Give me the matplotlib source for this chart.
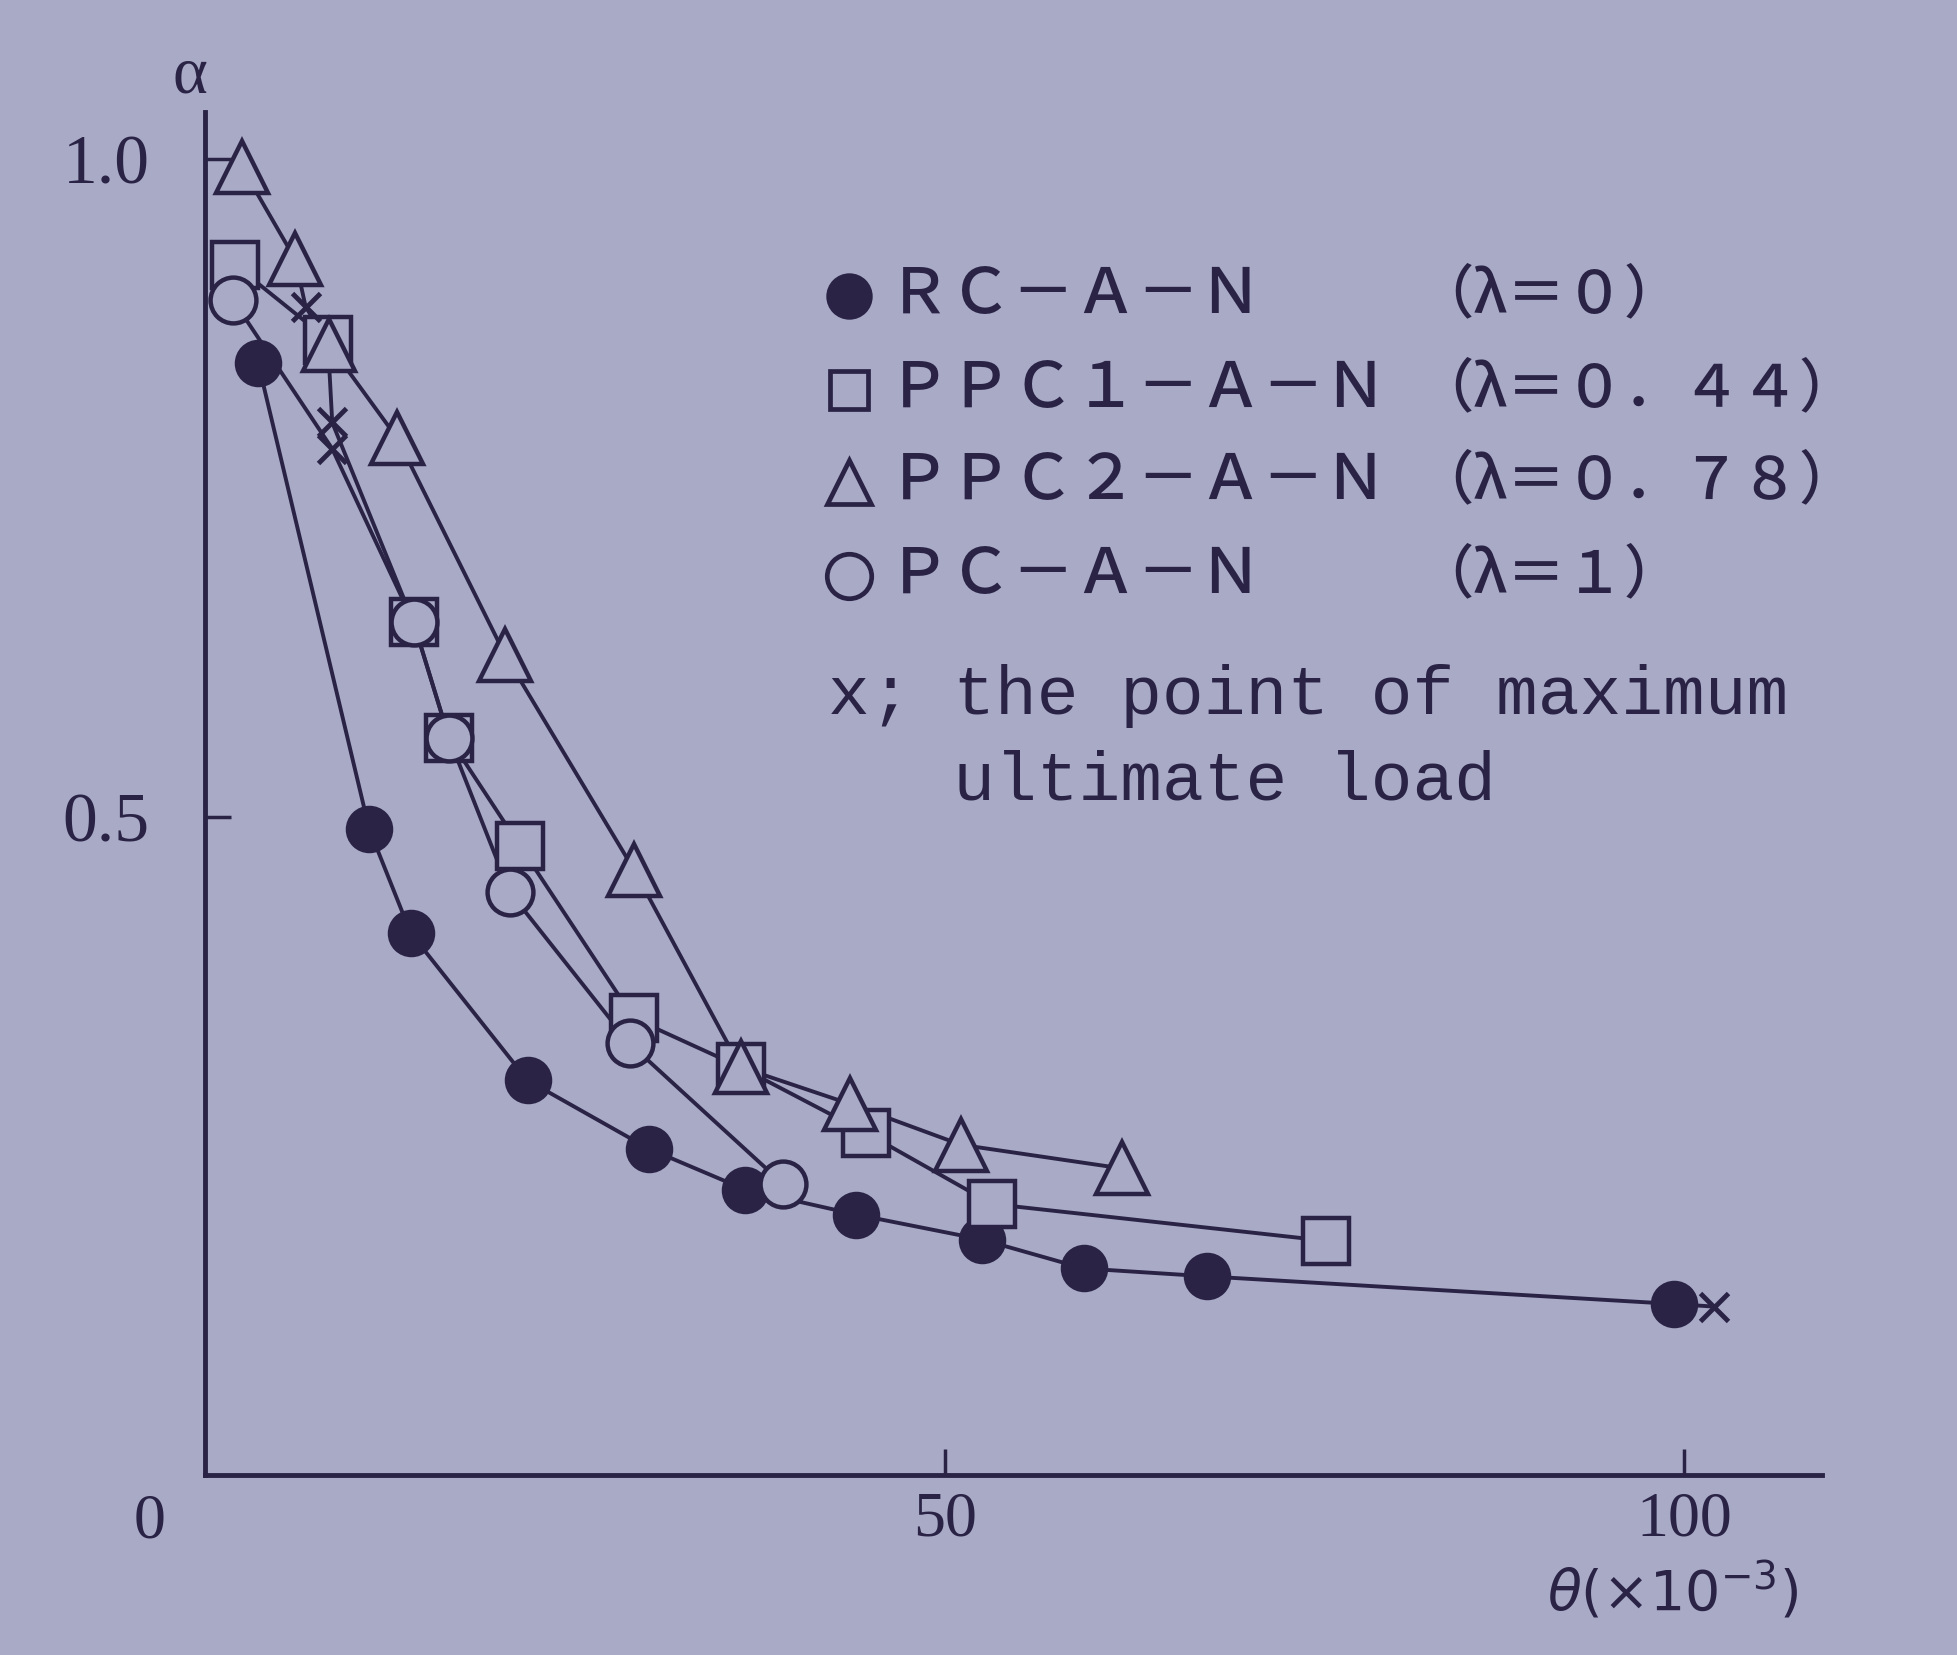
import matplotlib.pyplot as plt

# rotation angle theta (x10^-3) and load ratio alpha
# RC-A-N (lambda = 0); last point is the "x" (maximum ultimate load)
rc_x = [3.6, 11.1, 13.9, 21.8, 30.0, 36.5, 44.0, 52.5, 59.4, 67.7, 99.3, 102.0]
rc_y = [0.845, 0.491, 0.412, 0.300, 0.248, 0.217, 0.198, 0.179, 0.157, 0.151, 0.130, 0.128]
rc_max = 11

# PPC1-A-N (lambda = 0.44)
p1_x = [2.0, 8.3, 8.6, 14.1, 16.5, 21.3, 29.0, 36.2, 44.7, 53.2, 75.8]
p1_y = [0.920, 0.863, 0.800, 0.648, 0.560, 0.478, 0.347, 0.310, 0.260, 0.206, 0.178]
p1_max = 2

# PPC2-A-N (lambda = 0.78)
p2_x = [2.5, 6.1, 6.8, 8.4, 13.0, 20.3, 29.0, 36.2, 43.6, 51.1, 62.0]
p2_y = [0.994, 0.924, 0.888, 0.859, 0.788, 0.623, 0.460, 0.310, 0.282, 0.251, 0.233]
p2_max = 2

# PC-A-N (lambda = 1)
pc_x = [1.9, 8.6, 14.1, 16.5, 20.6, 28.7, 39.1]
pc_y = [0.893, 0.780, 0.648, 0.560, 0.443, 0.328, 0.221]
pc_max = 1

names = ["ＲＣ－Ａ－Ｎ", "ＰＰＣ１－Ａ－Ｎ", "ＰＰＣ２－Ａ－Ｎ", "ＰＣ－Ａ－Ｎ"]
lambdas = ["（λ＝０）", "（λ＝０．４４）", "（λ＝０．７８）", "（λ＝１）"]
note = ["x; the point of maximum", "   ultimate load"]

BG = "#a8aac6"
INK = "#2a2346"

W, H = 1957, 1655


def fx(px):
    return px / W


def fy(py):
    return 1 - py / H


fig = plt.figure(figsize=(W / 100, H / 100), dpi=100, facecolor=BG)
ax = fig.add_axes([205 / W, 180 / H, 1617 / W, 1363 / H])
ax.set_facecolor("none")

series = [
    (rc_x, rc_y, rc_max, "o", INK, 31),
    (p1_x, p1_y, p1_max, "s", BG, 33),
    (p2_x, p2_y, p2_max, "^", BG, 37),
    (pc_x, pc_y, pc_max, "o", BG, 33),
]

for xs, ys, imax, mk, fc, ms in series:
    ax.plot(xs, ys, color=INK, lw=2.8, zorder=2, clip_on=False)
    px = [v for i, v in enumerate(xs) if i != imax]
    py = [v for i, v in enumerate(ys) if i != imax]
    ax.plot(px, py, ls="none", marker=mk, ms=ms, mfc=fc, mec=INK, mew=3.2,
            zorder=3, clip_on=False)
    ax.plot([xs[imax]], [ys[imax]], ls="none", marker="x", ms=20, mec=INK,
            mew=3.5, zorder=4, clip_on=False)

ax.set_xlim(0, 109.3)
ax.set_ylim(0, 1.036)
for s in ["top", "right"]:
    ax.spines[s].set_visible(False)
for s in ["left", "bottom"]:
    ax.spines[s].set_linewidth(3.5)
    ax.spines[s].set_color(INK)

ax.set_xticks([50, 100])
ax.set_xticklabels(["50", "100"], family="Liberation Serif", fontsize=46, color=INK)
ax.set_yticks([0.5, 1.0])
ax.set_yticklabels(["0.5", "1.0"], family="Liberation Serif", fontsize=50, color=INK)
ax.tick_params(axis="x", direction="in", length=19, width=2.5, color=INK, pad=12)
ax.tick_params(axis="y", direction="in", length=19, width=2.5, color=INK, pad=40)

# origin label and axis titles
fig.text(fx(150), fy(1522), "0", family="Liberation Serif", fontsize=46,
         color=INK, ha="center", va="center")
fig.text(fx(190), fy(76), "α", family="Liberation Serif", fontsize=48,
         color=INK, ha="center", va="center")
fig.text(fx(1672), fy(1592), r"$\theta$(×10$^{-3}$)", family="DejaVu Sans",
         fontsize=40, color=INK, ha="center", va="center")

# legend drawn by hand
rows_y = [296, 390, 482, 576]
marks = [("o", INK, 30), ("s", BG, 28), ("^", BG, 32), ("o", BG, 32)]
for yy, (mk, fc, ms), nm, lb in zip(rows_y, marks, names, lambdas):
    fig.lines.append(plt.Line2D([fx(849)], [fy(yy)], marker=mk, ms=ms, mfc=fc,
                                mec=INK, mew=3.4, ls="none",
                                transform=fig.transFigure))
    fig.text(fx(888), fy(yy), nm, family=["Noto Sans CJK JP", "DejaVu Sans"],
             fontsize=45, color=INK, ha="left", va="center", fontweight="medium")
    fig.text(fx(1415), fy(yy), lb, family=["Noto Sans CJK JP", "DejaVu Sans"],
             fontsize=42, color=INK, ha="left", va="center", fontweight="medium")

for line, base in zip(note, [714, 800]):
    fig.text(fx(828), fy(base), line, family="Liberation Mono", fontsize=50,
             color=INK, ha="left", va="baseline")

fig.savefig("out.png", dpi=100, facecolor=BG)
